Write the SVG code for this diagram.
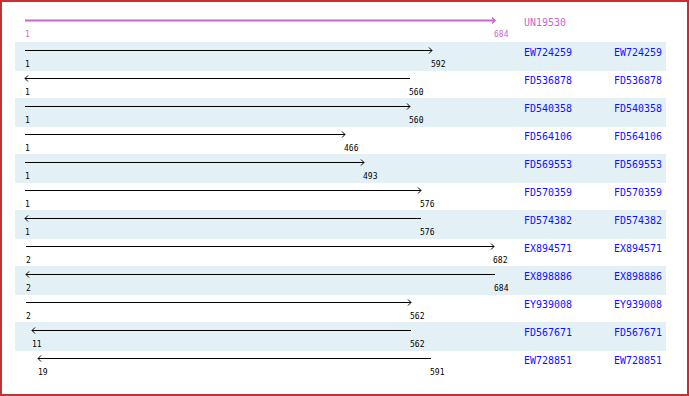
<svg xmlns="http://www.w3.org/2000/svg" width="690" height="396" viewBox="0 0 690 396">
<style>
.band{fill:#e3f0f5}
.ln{stroke:#000;stroke-width:1;fill:none;marker-end:url(#ah)}
.pl{stroke:#cc66cc;stroke-width:2;fill:none;marker-end:url(#ahp)}
.num{font-family:"DejaVu Sans Mono","Liberation Mono",monospace;font-size:8px;fill:#000}
.nump{font-family:"DejaVu Sans Mono","Liberation Mono",monospace;font-size:8px;fill:#cc66cc}
.nm{font-family:"DejaVu Sans Mono","Liberation Mono",monospace;font-size:11px;fill:#1010ff}
.nmp{font-family:"DejaVu Sans Mono","Liberation Mono",monospace;font-size:11px;fill:#cc66cc}
</style>
<defs>
<marker id="ah" markerUnits="userSpaceOnUse" markerWidth="8" markerHeight="8" refX="4" refY="4" orient="auto" viewBox="0 0 8 8"><path d="M1,1 L4,4 L1,7" fill="none" stroke="#000" stroke-width="1"/></marker>
<marker id="ahp" markerUnits="userSpaceOnUse" markerWidth="8" markerHeight="8" refX="4" refY="4" orient="auto" viewBox="0 0 8 8"><path d="M1,1 L4,4 L1,7" fill="none" stroke="#cc66cc" stroke-width="1.5"/></marker>
</defs>
<rect x="1" y="1" width="687" height="394" fill="#fff" stroke="#c03333" stroke-width="2"/>
<g id="bands">
<rect class="band" x="15" y="42" width="651" height="29"/>
<rect class="band" x="15" y="98" width="651" height="29"/>
<rect class="band" x="15" y="154" width="651" height="29"/>
<rect class="band" x="15" y="210" width="651" height="29"/>
<rect class="band" x="15" y="266" width="651" height="29"/>
<rect class="band" x="15" y="322" width="651" height="29"/>
</g>
<g id="connectors">
<line class="pl" x1="25" y1="20.5" x2="495" y2="20.5"/>
<line class="ln" x1="25" y1="50.5" x2="432" y2="50.5"/>
<line class="ln" x1="410" y1="78.5" x2="25" y2="78.5"/>
<line class="ln" x1="25" y1="106.5" x2="410" y2="106.5"/>
<line class="ln" x1="25" y1="134.5" x2="345" y2="134.5"/>
<line class="ln" x1="25" y1="162.5" x2="364" y2="162.5"/>
<line class="ln" x1="25" y1="190.5" x2="421" y2="190.5"/>
<line class="ln" x1="421" y1="218.5" x2="25" y2="218.5"/>
<line class="ln" x1="26" y1="246.5" x2="494" y2="246.5"/>
<line class="ln" x1="495" y1="274.5" x2="26" y2="274.5"/>
<line class="ln" x1="26" y1="302.5" x2="411" y2="302.5"/>
<line class="ln" x1="411" y1="330.5" x2="32" y2="330.5"/>
<line class="ln" x1="431" y1="358.5" x2="38" y2="358.5"/>
</g>
<g id="n0"><text class="nump" x="25" y="37">1</text><text class="nump" x="494" y="37">684</text><text class="nmp" x="524" y="26" textLength="42" lengthAdjust="spacingAndGlyphs">UN19530</text></g>
<g id="n1"><text class="num" x="25" y="67">1</text><text class="num" x="431" y="67">592</text><text class="nm" x="524" y="56" textLength="48" lengthAdjust="spacingAndGlyphs">EW724259</text><text class="nm" x="614" y="56" textLength="48" lengthAdjust="spacingAndGlyphs">EW724259</text></g>
<g id="n2"><text class="num" x="25" y="95">1</text><text class="num" x="409" y="95">560</text><text class="nm" x="524" y="84" textLength="48" lengthAdjust="spacingAndGlyphs">FD536878</text><text class="nm" x="614" y="84" textLength="48" lengthAdjust="spacingAndGlyphs">FD536878</text></g>
<g id="n3"><text class="num" x="25" y="123">1</text><text class="num" x="409" y="123">560</text><text class="nm" x="524" y="112" textLength="48" lengthAdjust="spacingAndGlyphs">FD540358</text><text class="nm" x="614" y="112" textLength="48" lengthAdjust="spacingAndGlyphs">FD540358</text></g>
<g id="n4"><text class="num" x="25" y="151">1</text><text class="num" x="344" y="151">466</text><text class="nm" x="524" y="140" textLength="48" lengthAdjust="spacingAndGlyphs">FD564106</text><text class="nm" x="614" y="140" textLength="48" lengthAdjust="spacingAndGlyphs">FD564106</text></g>
<g id="n5"><text class="num" x="25" y="179">1</text><text class="num" x="363" y="179">493</text><text class="nm" x="524" y="168" textLength="48" lengthAdjust="spacingAndGlyphs">FD569553</text><text class="nm" x="614" y="168" textLength="48" lengthAdjust="spacingAndGlyphs">FD569553</text></g>
<g id="n6"><text class="num" x="25" y="207">1</text><text class="num" x="420" y="207">576</text><text class="nm" x="524" y="196" textLength="48" lengthAdjust="spacingAndGlyphs">FD570359</text><text class="nm" x="614" y="196" textLength="48" lengthAdjust="spacingAndGlyphs">FD570359</text></g>
<g id="n7"><text class="num" x="25" y="235">1</text><text class="num" x="420" y="235">576</text><text class="nm" x="524" y="224" textLength="48" lengthAdjust="spacingAndGlyphs">FD574382</text><text class="nm" x="614" y="224" textLength="48" lengthAdjust="spacingAndGlyphs">FD574382</text></g>
<g id="n8"><text class="num" x="26" y="263">2</text><text class="num" x="493" y="263">682</text><text class="nm" x="524" y="252" textLength="48" lengthAdjust="spacingAndGlyphs">EX894571</text><text class="nm" x="614" y="252" textLength="48" lengthAdjust="spacingAndGlyphs">EX894571</text></g>
<g id="n9"><text class="num" x="26" y="291">2</text><text class="num" x="494" y="291">684</text><text class="nm" x="524" y="280" textLength="48" lengthAdjust="spacingAndGlyphs">EX898886</text><text class="nm" x="614" y="280" textLength="48" lengthAdjust="spacingAndGlyphs">EX898886</text></g>
<g id="n10"><text class="num" x="26" y="319">2</text><text class="num" x="410" y="319">562</text><text class="nm" x="524" y="308" textLength="48" lengthAdjust="spacingAndGlyphs">EY939008</text><text class="nm" x="614" y="308" textLength="48" lengthAdjust="spacingAndGlyphs">EY939008</text></g>
<g id="n11"><text class="num" x="32" y="347">11</text><text class="num" x="410" y="347">562</text><text class="nm" x="524" y="336" textLength="48" lengthAdjust="spacingAndGlyphs">FD567671</text><text class="nm" x="614" y="336" textLength="48" lengthAdjust="spacingAndGlyphs">FD567671</text></g>
<g id="n12"><text class="num" x="38" y="375">19</text><text class="num" x="430" y="375">591</text><text class="nm" x="524" y="364" textLength="48" lengthAdjust="spacingAndGlyphs">EW728851</text><text class="nm" x="614" y="364" textLength="48" lengthAdjust="spacingAndGlyphs">EW728851</text></g>
</svg>
